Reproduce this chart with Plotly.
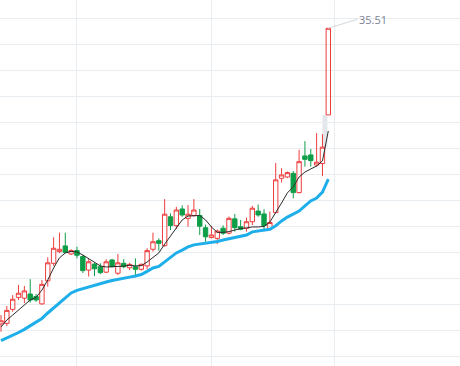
import plotly.graph_objects as go

# ---- data ----
day_index = list(range(57))

open_ = [24.14, 24.16, 24.70, 25.16, 25.13, 25.29, 25.19, 24.91, 25.80, 26.47,
         26.92, 27.14, 26.83, 26.96, 26.73, 26.21, 26.44, 26.34, 26.13, 26.60,
         26.09, 26.47, 26.30, 26.34, 26.24, 26.37, 27.01, 27.34, 27.15, 28.26,
         27.92, 28.56, 28.20, 28.31, 28.31, 27.84, 27.46, 27.43, 27.82, 27.63,
         28.18, 27.88, 27.82, 28.07, 28.48, 28.37, 27.81, 28.42, 29.74, 29.79,
         29.93, 29.19, 30.60, 30.64, 30.25, 30.31, 32.18]
close = [24.26, 24.66, 25.09, 25.32, 25.41, 25.06, 25.06, 25.66, 26.49, 27.05,
         27.01, 26.89, 26.96, 26.78, 26.19, 26.53, 26.26, 26.11, 26.53, 26.34,
         26.49, 26.34, 26.43, 26.24, 26.43, 26.96, 27.30, 27.24, 28.36, 27.92,
         28.52, 28.33, 28.36, 28.52, 27.90, 27.49, 27.56, 27.71, 27.63, 28.20,
         27.84, 27.78, 28.07, 28.59, 28.33, 27.92, 28.04, 29.68, 29.87, 29.96,
         29.19, 30.38, 30.47, 30.42, 30.36, 30.94, 35.51]
high = [24.48, 24.83, 25.25, 25.64, 25.60, 25.86, 25.29, 25.83, 26.70, 27.47,
        27.65, 27.65, 27.01, 27.11, 26.80, 26.63, 26.49, 26.47, 26.63, 26.64,
        26.83, 26.63, 26.49, 26.66, 26.47, 27.05, 27.65, 27.43, 28.94, 28.39,
        28.64, 28.70, 28.71, 28.94, 28.56, 27.96, 27.91, 27.77, 27.93, 28.27,
        28.37, 28.14, 28.23, 28.68, 28.73, 28.55, 28.46, 30.33, 30.13, 30.00,
        30.02, 30.84, 31.17, 30.87, 31.48, 31.44, 35.51]
low = [23.84, 24.06, 24.61, 25.06, 24.94, 24.96, 24.99, 24.88, 25.57, 26.37,
       26.86, 26.86, 26.79, 26.66, 26.10, 25.96, 25.98, 26.06, 26.09, 26.32,
       26.02, 26.28, 26.21, 25.93, 26.19, 26.24, 26.92, 26.96, 27.11, 27.75,
       27.79, 28.26, 27.88, 28.26, 27.56, 27.30, 27.43, 27.21, 27.56, 27.58,
       27.69, 27.74, 27.69, 27.94, 28.26, 27.75, 27.75, 28.39, 29.58, 29.75,
       28.97, 29.16, 30.19, 30.19, 30.19, 29.83, 32.18]

ma5 = [24.02, 24.29, 24.48, 24.68, 24.87, 25.06, 25.16, 25.44, 25.83, 26.29,
       26.68, 26.87, 26.93, 26.91, 26.79, 26.64, 26.52, 26.37, 26.33, 26.35,
       26.35, 26.36, 26.40, 26.37, 26.38, 26.52, 26.71, 26.87, 27.21, 27.52,
       27.83, 28.14, 28.29, 28.31, 28.31, 28.14, 27.87, 27.66, 27.66, 27.69,
       27.75, 27.81, 27.83, 27.87, 27.87, 27.89, 28.06, 28.41, 28.79, 29.18,
       29.41, 29.79, 29.98, 30.10, 30.21, 30.41, 31.56]

ma_long = [23.50, 23.60, 23.69, 23.81, 23.93, 24.08, 24.21, 24.35, 24.56, 24.75,
           24.94, 25.16, 25.33, 25.43, 25.50, 25.56, 25.64, 25.69, 25.75, 25.81,
           25.86, 25.89, 25.94, 25.98, 26.04, 26.16, 26.29, 26.35, 26.52, 26.71,
           26.87, 26.98, 27.10, 27.18, 27.21, 27.25, 27.29, 27.31, 27.37, 27.42,
           27.46, 27.50, 27.56, 27.68, 27.71, 27.75, 27.78, 27.91, 28.10, 28.25,
           28.37, 28.48, 28.68, 28.87, 28.98, 29.21, 29.71]

month_starts = [13, 36, 57]
max_label = "35.51"

# ---- figure ----
UP = "#ee3d3d"
DOWN = "#0e9e48"
GRID = "#e8edf2"

fig = go.Figure()

fig.add_trace(go.Candlestick(
    x=day_index, open=open_, high=high, low=low, close=close,
    increasing=dict(line=dict(color=UP, width=1), fillcolor="rgba(255,255,255,0)"),
    decreasing=dict(line=dict(color=DOWN, width=1), fillcolor=DOWN),
    whiskerwidth=0, hoverinfo="skip", showlegend=False,
))

fig.add_trace(go.Scatter(
    x=day_index, y=ma_long, mode="lines",
    line=dict(color="#1eaeea", width=3), hoverinfo="skip", showlegend=False,
))
fig.add_trace(go.Scatter(
    x=day_index, y=ma5, mode="lines",
    line=dict(color="#2b2b2b", width=1), hoverinfo="skip", showlegend=False,
))

# gap between previous candle and the last one
fig.add_shape(type="rect", xref="x", yref="y",
              x0=day_index[-2], x1=day_index[-1] - 0.15,
              y0=close[-2], y1=open_[-1],
              fillcolor="#e3e6eb", line=dict(width=0), layer="below")

fig.add_annotation(
    x=day_index[-1], y=max(high), text=max_label,
    showarrow=True, arrowhead=0, arrowwidth=1, arrowcolor="#d3d8de",
    ax=29, ay=-9, xanchor="left", yanchor="middle",
    font=dict(family="Open Sans, Arial, sans-serif", size=11, color="#7d8294"),
)

fig.update_layout(
    width=460, height=366,
    margin=dict(l=0, r=0, t=0, b=0),
    paper_bgcolor="white", plot_bgcolor="white",
    showlegend=False,
    boxgap=0, boxgroupgap=0.25,
    xaxis=dict(range=[-0.171, 78.53], tickmode="array", tickvals=month_starts,
               showticklabels=False, showgrid=True, gridcolor=GRID, gridwidth=1,
               zeroline=False, rangeslider=dict(visible=False), showline=False),
    yaxis=dict(range=[22.521, 36.598], tick0=0.894, dtick=1,
               showticklabels=False, showgrid=True, gridcolor=GRID, gridwidth=1,
               zeroline=False, showline=False),
)

fig.write_html("out.html", config={"displayModeBar": False},
               post_script="document.body.style.margin='0px';document.body.style.overflow='hidden';")
